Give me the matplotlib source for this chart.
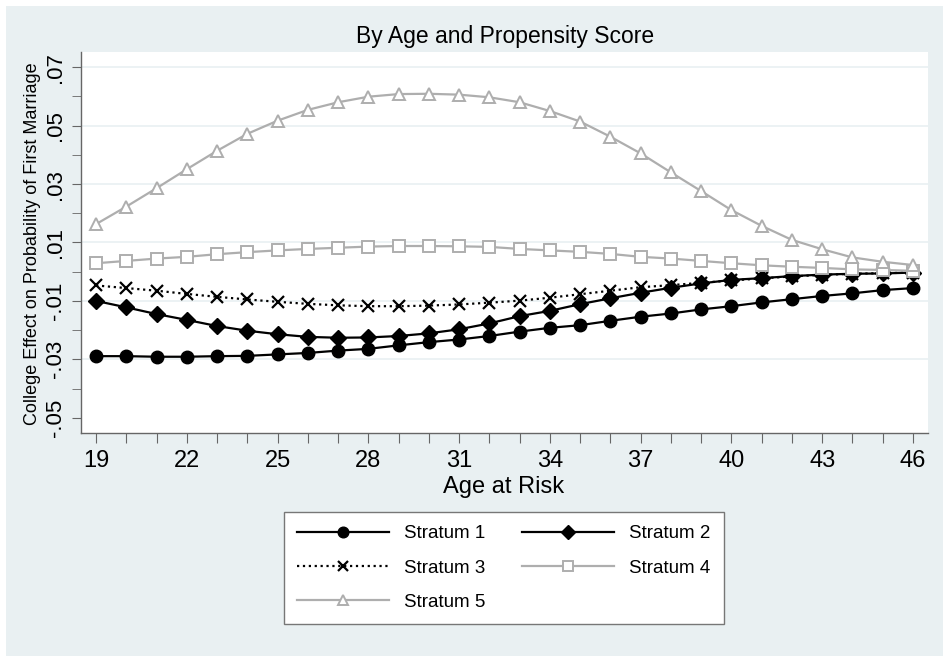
import numpy as np
import matplotlib.pyplot as plt
from matplotlib.patches import Rectangle

plt.rcParams['font.family'] = ['Liberation Sans', 'DejaVu Sans']

# data
ages = list(range(19, 47))
stratum1 = [-0.0289, -0.0289, -0.0291, -0.0291, -0.0289, -0.0288, -0.0283, -0.0278,
            -0.0270, -0.0264, -0.0252, -0.0241, -0.0232, -0.0220, -0.0205, -0.0192,
            -0.0183, -0.0168, -0.0154, -0.0143, -0.0129, -0.0118, -0.0105, -0.0094,
            -0.0083, -0.0074, -0.0063, -0.0056]
stratum2 = [-0.0100, -0.0122, -0.0145, -0.0165, -0.0186, -0.0202, -0.0214, -0.0223,
            -0.0226, -0.0225, -0.0220, -0.0211, -0.0197, -0.0177, -0.0152, -0.0134,
            -0.0111, -0.0091, -0.0072, -0.0055, -0.0040, -0.0028, -0.0022, -0.0015,
            -0.0010, -0.0007, -0.0006, -0.0003]
stratum3 = [-0.0047, -0.0056, -0.0065, -0.0076, -0.0086, -0.0095, -0.0103, -0.0110,
            -0.0115, -0.0118, -0.0118, -0.0116, -0.0112, -0.0106, -0.0099, -0.0089,
            -0.0077, -0.0065, -0.0053, -0.0046, -0.0038, -0.0030, -0.0023, -0.0016,
            -0.0011, -0.0007, -0.0005, -0.0003]
stratum4 = [0.0029, 0.0037, 0.0045, 0.0051, 0.0060, 0.0067, 0.0073, 0.0078,
            0.0082, 0.0086, 0.0088, 0.0088, 0.0087, 0.0085, 0.0078, 0.0073,
            0.0068, 0.0061, 0.0051, 0.0045, 0.0037, 0.0029, 0.0022, 0.0017,
            0.0013, 0.0008, 0.0006, 0.0003]
stratum5 = [0.0163, 0.0223, 0.0286, 0.0351, 0.0414, 0.0472, 0.0517, 0.0554,
            0.0580, 0.0599, 0.0608, 0.0609, 0.0606, 0.0597, 0.0580, 0.0550,
            0.0514, 0.0462, 0.0405, 0.0340, 0.0276, 0.0211, 0.0157, 0.0109,
            0.0077, 0.0049, 0.0034, 0.0023]
labels = ['Stratum 1', 'Stratum 2', 'Stratum 3', 'Stratum 4', 'Stratum 5']

ytick_major = [-0.05, -0.03, -0.01, 0.01, 0.03, 0.05, 0.07]
ytick_labels = ['-.05', '-.03', '-.01', '.01', '.03', '.05', '.07']
ytick_minor = [-0.04, -0.02, 0.0, 0.02, 0.04, 0.06]
grid_vals = [-0.03, -0.01, 0.01, 0.03, 0.05, 0.07]

bg = '#e9f0f2'
gray = '#aeaeae'

fig = plt.figure(figsize=(9.43, 6.56), dpi=100)
fig.patches.append(Rectangle((6/943, 0), 1, 1 - 6/656, transform=fig.transFigure,
                             facecolor=bg, edgecolor='none', zorder=-5))
ax = fig.add_axes([81/943, 1 - 433/656, 847/943, 381/656])
ax.set_facecolor('white')

for v in grid_vals:
    ax.axhline(v, color=bg, lw=1.2, zorder=0)

h1, = ax.plot(ages, stratum1, '-', color='black', lw=1.6, marker='o', ms=9)
h2, = ax.plot(ages, stratum2, '-', color='black', lw=1.6, marker='D', ms=8.5)
h3, = ax.plot(ages, stratum3, ':', color='black', lw=1.6, marker='x', ms=8, mew=1.6)
h4, = ax.plot(ages, stratum4, '-', color=gray, lw=1.6, marker='s', ms=8,
              mfc='white', mec=gray, mew=1.4)
h5, = ax.plot(ages, stratum5, '-', color=gray, lw=1.6, marker='^', ms=9,
              mfc='white', mec=gray, mew=1.4)

ax.set_xlim(18.5, 46.5)
ax.set_ylim(-0.0552, 0.0752)

ax.set_xticks(ages)
ax.set_xticklabels([str(a) if (a - 19) % 3 == 0 else '' for a in ages], fontsize=17)
ax.set_yticks(ytick_major)
ax.set_yticklabels(ytick_labels, fontsize=16, rotation=90, va='center')
ax.set_yticks(ytick_minor, minor=True)

for s in ['top', 'right']:
    ax.spines[s].set_visible(False)
for s in ['left', 'bottom']:
    ax.spines[s].set_color('#666666')
    ax.spines[s].set_linewidth(1)
ax.tick_params(axis='x', length=7, color='#666666', pad=5)
ax.tick_params(axis='y', which='both', length=6.5, color='#666666', pad=4)

fig.text(505/943, 1 - 37/656, 'By Age and Propensity Score', fontsize=16.5,
         ha='center', va='center')
fig.text(504/943, 1 - 487/656, 'Age at Risk', fontsize=17, ha='center', va='center')
fig.text(33/943, 1 - 244/656, 'College Effect on Probability of First Marriage',
         fontsize=13, rotation=90, ha='center', va='center')

leg = fig.legend([h1, h3, h5, h2, h4],
                 [labels[0], labels[2], labels[4], labels[1], labels[3]],
                 loc='upper center', bbox_to_anchor=(504/943, 1 - 512/656),
                 bbox_transform=fig.transFigure, ncol=2, fontsize=13.5,
                 handlelength=4.9, handletextpad=0.8, columnspacing=1.95,
                 borderpad=0.7, labelspacing=0.92, borderaxespad=0,
                 markerscale=0.85, fancybox=False, framealpha=1,
                 edgecolor='#777777')
leg.get_frame().set_linewidth(1)

fig.savefig('out.png', dpi=100)
